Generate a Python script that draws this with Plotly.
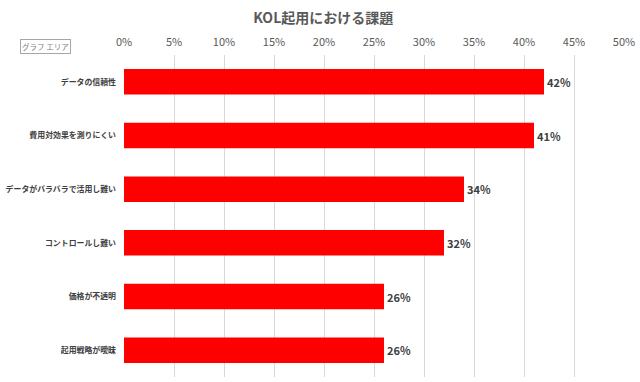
import plotly.graph_objects as go

categories = ["データの信頼性", "費用対効果を測りにくい", "データがバラバラで活用し難い",
              "コントロールし難い", "価格が不透明", "起用戦略が曖昧"]
values = [0.42, 0.41, 0.34, 0.32, 0.26, 0.26]
tick_vals = [i * 0.05 for i in range(11)]
tick_text = [f"{i*5}%" for i in range(11)]
title_text = "KOL起用における課題"

jp = "Noto Sans CJK JP"

fig = go.Figure()
fig.add_trace(go.Bar(
    x=values, y=categories, orientation="h",
    marker=dict(color="#FF0000", line=dict(width=0)),
    text=[f"{round(v*100)}%" for v in values],
    textposition="outside",
    textfont=dict(family=jp, size=11, color="#404040", weight="bold"),
    cliponaxis=False,
    width=0.475,
))

fig.update_layout(
    width=640, height=382,
    margin=dict(l=124, r=16, t=55, b=5),
    paper_bgcolor="white", plot_bgcolor="white",
    showlegend=False,
    title=dict(text=title_text, x=0.505, xanchor="center", y=0.952, yanchor="middle",
               font=dict(family=jp, size=14, color="#595959", weight="bold")),
    xaxis=dict(side="top", range=[0, 0.5], tickvals=tick_vals, ticktext=tick_text,
               showgrid=True, gridcolor="#D9D9D9", gridwidth=1, zeroline=False,
               showline=False, ticks="", ticklabelstandoff=6, automargin=False,
               tickfont=dict(family=jp, size=11, color="#595959")),
    yaxis=dict(categoryorder="array", categoryarray=categories, autorange="reversed",
               showgrid=False, zeroline=False, showline=False, ticks="",
               ticklabelstandoff=7, automargin=False,
               tickfont=dict(family=jp, size=7.9, color="#404040", weight="bold")),
    annotations=[dict(text="グラフ エリア", xref="paper", yref="paper", x=-0.208, y=1.002,
                      xanchor="left", yanchor="bottom", showarrow=False,
                      font=dict(family=jp, size=7.5, color="#7F7F7F"),
                      bordercolor="#A6A6A6", borderwidth=1, borderpad=1, bgcolor="white")],
)

fig.write_html("out.html")
